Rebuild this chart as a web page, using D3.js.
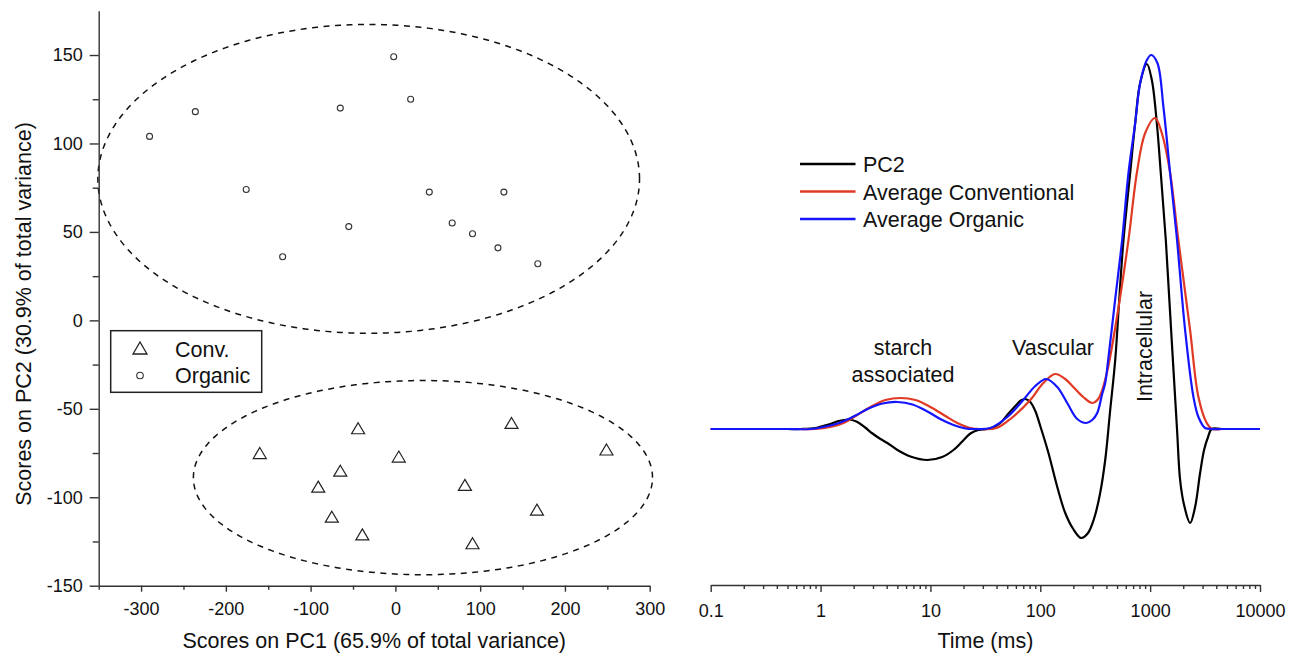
<!DOCTYPE html>
<html><head><meta charset="utf-8">
<script src="https://cdn.jsdelivr.net/npm/d3@7"></script>
<style>
body{margin:0;background:#fff}
svg{display:block}
text{font-family:"Liberation Sans",Arial,sans-serif;fill:#111}
</style></head>
<body><svg id="c" width="1298" height="659"></svg>
<script>
// ---------- Left panel data (PCA scores) ----------
const organicPC1 = [-290,-236,-176,-133,-65,-55,-2,18,40,67,91,121,128,168];
const organicPC2 = [104,118,74,36,120,53,149,125,72.5,55,49,41,72.5,32];
const convPC1 = [-160,-44,-65,-91,-75,-39,4,82,91,137,167,249];
const convPC2 = [-75,-61,-85,-94,-111,-121,-77,-93,-126,-58,-107,-73];
// ellipse: [centre PC1, centre PC2, semi-axis PC1, semi-axis PC2]
const organicEllipse = [-31.5, 80, 319.5, 87.3];
const convEllipse = [32.5, -88.9, 270.8, 54.9];
const pc1Ticks = [-300,-200,-100,0,100,200,300];
const pc1Minor = [-350,-250,-150,-50,50,150,250];
const pc2Ticks = [-150,-100,-50,0,50,100,150];
const pc2Minor = [-125,-75,-25,25,75,125];
const scoreLegend = ["Conv.","Organic"];

// ---------- Right panel data (T2 distributions) ----------
const timeTicks = [0.1,1,10,100,1000,10000];
const pc2T = [0.1,0.5,0.658,0.901,1.18,1.46,1.80,2.12,2.51,2.97,3.51,4.06,5.01,6.58,9.39,12.8,16.2,19.5,23.1,27.3,35.1,43.3,50.1,59.3,66.4,73.1,81.1,90.1,100,118,142.8,168.7,199.5,236,272,308,348,390,433,481,523,572,658,731,811,934,1036,1150,1250,1389,1552,1758,1874,2037,2310,2566,2849,3097,3366,3637,4500,10000];
const pc2V = [0,0,0,0.1,0.45,0.8,0.95,0.75,0.2,-0.45,-1.0,-1.4,-2.1,-2.75,-3.1,-2.8,-2.1,-1.25,-0.45,-0.1,0.05,0.6,1.4,2.3,2.85,3.0,2.7,1.8,0.3,-2.3,-5.8,-8.4,-10.0,-10.9,-10.4,-9.0,-6.6,-3.1,1.9,6.9,12.9,18.9,25.6,30.6,34.6,36.5,34.9,30.6,25.6,18.9,9.9,-0.1,-5.1,-7.6,-9.4,-7.8,-4.4,-2.1,-0.8,0,0,0];
const convT = [0.1,0.6,0.901,1.23,1.62,2.08,2.85,3.90,5.34,7.31,10.0,13.7,17.6,23.1,28.5,40,53.4,81.1,106.5,136.9,168.7,199.5,246,297,337,366,415,523,635,757,901,1110,1276,1520,1807,2310,2750,3275,3662,4500,10000];
const convV = [0,0,0,0.2,0.6,1.3,2.2,2.9,3.1,2.9,2.2,1.3,0.6,0.1,0,0.1,1.0,2.9,4.6,5.5,5.0,4.2,3.2,2.6,3.0,3.9,6.2,12.6,18.9,25.6,29.6,31.1,29.6,25.6,18.9,9.9,3.2,0.6,0,0,0];
const orgT = [0.1,0.5,0.811,1.11,1.52,2.08,2.68,3.66,5.01,6.86,9.39,12.3,16.2,20.8,25.6,35.1,50.1,70.0,90.1,113.4,142.8,175.8,216.9,262,297,330,366,390,415,481,556,635,731,811,934,1021,1164,1321,1520,1740,2081,2478,2750,3162,3662,4500,10000];
const orgV = [0,0,0,0.25,0.65,1.35,2.0,2.55,2.7,2.45,1.75,1.0,0.4,0.05,0,0.1,1.2,2.9,4.3,5.0,4.2,2.6,1.0,0.6,0.9,1.6,3.5,4.6,6.9,13.0,18.9,25.6,30.6,34.6,36.9,37.4,36.6,32.2,25.6,19.4,9.9,3.2,1.2,0.1,0,0,0];
const seriesNames = ["PC2","Average Conventional","Average Organic"];
const seriesColors = ["#000000","#e03a24","#1414ff"];

const svg = d3.select("#c");
const FONT = '"Liberation Sans", Arial, sans-serif';
const AX = "#333";

function styleAxis(g, fs){
  g.selectAll("path.domain").attr("stroke",AX).attr("stroke-width",1.4);
  g.selectAll(".tick line").attr("stroke",AX).attr("stroke-width",1.4);
  g.selectAll(".tick text").attr("font-size",fs).attr("font-family",FONT).attr("fill","#111");
}

// ================= LEFT PANEL =================
const xL = d3.scaleLinear().domain([-350,300]).range([98.7,649.7]);
const yL = d3.scaleLinear().domain([-150,175]).range([585.7,10.8]);

function ellipsePts(e){
  const pts=[];
  for(let i=0;i<=360;i++){const a=i*Math.PI/180; pts.push([e[0]+e[2]*Math.cos(a), e[1]+e[3]*Math.sin(a)]);}
  return pts;
}
const eLine = d3.line().x(d=>xL(d[0])).y(d=>yL(d[1]));
[organicEllipse, convEllipse].forEach(e=>{
  svg.append("path").attr("d",eLine(ellipsePts(e))).attr("fill","none")
    .attr("stroke","#111").attr("stroke-width",1.5).attr("stroke-dasharray","6,5.5");
});

const organic = organicPC1.map((v,i)=>[v,organicPC2[i]]);
svg.append("g").selectAll("circle").data(organic).join("circle")
  .attr("cx",d=>xL(d[0])).attr("cy",d=>yL(d[1])).attr("r",3)
  .attr("fill","none").attr("stroke","#333").attr("stroke-width",1.1);

const tri = (w,h)=>`M0,${-h/2}L${w/2},${h/2}L${-w/2},${h/2}Z`;
const conv = convPC1.map((v,i)=>[v,convPC2[i]]);
svg.append("g").selectAll("path").data(conv).join("path")
  .attr("d",tri(13,11)).attr("transform",d=>`translate(${xL(d[0])},${yL(d[1])})`)
  .attr("fill","none").attr("stroke","#222").attr("stroke-width",1.2);

const gyMinor = svg.append("g").attr("transform",`translate(${xL(-350)},0)`)
  .call(d3.axisLeft(yL).tickValues(pc2Minor).tickSize(6).tickFormat(""));
gyMinor.select(".domain").remove(); styleAxis(gyMinor,18);
const gy = svg.append("g").attr("transform",`translate(${xL(-350)},0)`)
  .call(d3.axisLeft(yL).tickValues(pc2Ticks).tickSize(9).tickSizeOuter(0).tickPadding(7).tickFormat(d=>String(d)));
styleAxis(gy,18);

const gxMinor = svg.append("g").attr("transform",`translate(0,${yL(-150)})`)
  .call(d3.axisBottom(xL).tickValues(pc1Minor).tickSize(4).tickFormat(""));
gxMinor.select(".domain").remove(); styleAxis(gxMinor,18);
const gx = svg.append("g").attr("transform",`translate(0,${yL(-150)})`)
  .call(d3.axisBottom(xL).tickValues(pc1Ticks).tickSize(6).tickSizeOuter(0).tickPadding(11).tickFormat(d=>String(d)));
styleAxis(gx,18);

svg.append("text").attr("x",(xL.range()[0]+xL.range()[1])/2).attr("y",648)
  .attr("text-anchor","middle").attr("font-size",21.5).text("Scores on PC1 (65.9% of total variance)");
svg.append("text").attr("transform","translate(31,314) rotate(-90)")
  .attr("text-anchor","middle").attr("font-size",21.5).text("Scores on PC2 (30.9% of total variance)");

const lg = svg.append("g");
lg.append("rect").attr("x",110.7).attr("y",330.7).attr("width",151).attr("height",61.6)
  .attr("fill","#fff").attr("stroke","#222").attr("stroke-width",1.5);
lg.append("path").attr("d",tri(14,12)).attr("transform","translate(140,348)")
  .attr("fill","none").attr("stroke","#222").attr("stroke-width",1.3);
lg.append("circle").attr("cx",140).attr("cy",375.5).attr("r",3.3)
  .attr("fill","none").attr("stroke","#333").attr("stroke-width",1.1);
lg.selectAll("text").data(scoreLegend).join("text")
  .attr("x",175).attr("y",(d,i)=>356.5+i*26.5).attr("font-size",21.5).text(d=>d);

// ================= RIGHT PANEL =================
const xR = d3.scaleLog().domain([0.1,10000]).range([710.7,1260]);
const yR = d3.scaleLinear().domain([-15.6,41.9]).range([585,10]);

const minorR = [];
timeTicks.slice(0,-1).forEach(t=>{for(let k=2;k<=9;k++) minorR.push(t*k);});
const grMinor = svg.append("g").attr("transform",`translate(0,585)`)
  .call(d3.axisBottom(xR).tickValues(minorR).tickSize(4).tickFormat(""));
grMinor.select(".domain").remove(); styleAxis(grMinor,18);
const gr = svg.append("g").attr("transform",`translate(0,585)`)
  .call(d3.axisBottom(xR).tickValues(timeTicks).tickSize(7).tickSizeOuter(0).tickPadding(12).tickFormat(d=>String(d)));
styleAxis(gr,18);

svg.append("text").attr("x",(710.7+1260)/2).attr("y",648).attr("text-anchor","middle")
  .attr("font-size",21.5).text("Time (ms)");

const series = [[pc2T,pc2V],[convT,convV],[orgT,orgV]];
const curve = d3.line().x(d=>xR(d[0])).y(d=>yR(d[1])).curve(d3.curveCatmullRom.alpha(0.5));
series.forEach((s,i)=>{
  const pts = s[0].map((t,j)=>[t,s[1][j]]);
  svg.append("path").attr("d",curve(pts)).attr("fill","none")
    .attr("stroke",seriesColors[i]).attr("stroke-width",2.2).attr("stroke-linejoin","round");
});

svg.append("text").attr("x",903).attr("y",355).attr("text-anchor","middle").attr("font-size",21.5).text("starch");
svg.append("text").attr("x",903).attr("y",382).attr("text-anchor","middle").attr("font-size",21.5).text("associated");
svg.append("text").attr("x",1053).attr("y",355).attr("text-anchor","middle").attr("font-size",21.5).text("Vascular");
svg.append("text").attr("transform","translate(1151.5,346.5) rotate(-90)").attr("text-anchor","middle")
  .attr("font-size",21.5).text("Intracellular");

const rl = svg.append("g");
seriesNames.forEach((n,i)=>{
  const y = 164 + i*27.5;
  rl.append("line").attr("x1",800).attr("x2",855.5).attr("y1",y).attr("y2",y)
    .attr("stroke",seriesColors[i]).attr("stroke-width",2.4);
  rl.append("text").attr("x",863).attr("y",y+8).attr("font-size",21.5).text(n);
});
</script></body></html>
